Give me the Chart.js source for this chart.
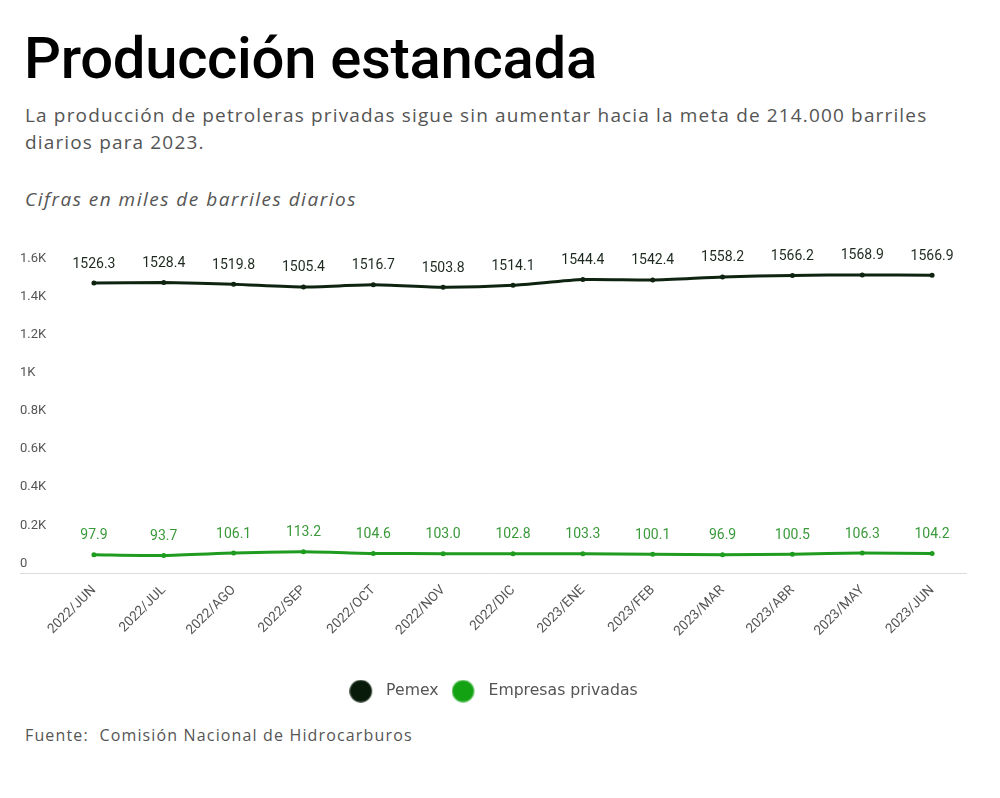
<!DOCTYPE html>
<html>
<head>
<meta charset="utf-8">
<script src="https://cdn.jsdelivr.net/npm/chart.js@4.4.0/dist/chart.umd.min.js"></script>
<style>
  html, body { margin:0; padding:0; background:#fff; }
  body { width:1000px; height:798px; position:relative; overflow:hidden; }
  #title { position:absolute; left:24px; top:29px; font-family:Roboto, sans-serif; font-weight:500; font-size:58px; color:#000; white-space:nowrap; line-height:1; letter-spacing:-0.3px; }
  #sub { position:absolute; left:25px; top:102px; font-family:"Open Sans", sans-serif; font-size:19px; letter-spacing:1.15px; color:#555; line-height:27px; white-space:nowrap; }
  #note { position:absolute; left:25px; top:186px; font-family:"Open Sans", sans-serif; font-style:italic; font-size:19px; letter-spacing:1.5px; color:#555; white-space:nowrap; }
  #foot { position:absolute; left:25px; top:724px; font-family:"Open Sans", sans-serif; font-size:16px; letter-spacing:1.15px; color:#555; white-space:pre; }
  #wrap { position:absolute; left:0; top:235px; width:1000px; height:474px; }
</style>
</head>
<body>
<div id="title">Producción estancada</div>
<div id="sub">La producción de petroleras privadas sigue sin aumentar hacia la meta de 214.000 barriles<br>diarios para 2023.</div>
<div id="note">Cifras en miles de barriles diarios</div>
<div id="wrap"><canvas id="c" width="1000" height="474"></canvas></div>
<div id="foot">Fuente:  Comisión Nacional de Hidrocarburos</div>
<script>
const categories = ['2022/JUN','2022/JUL','2022/AGO','2022/SEP','2022/OCT','2022/NOV','2022/DIC','2023/ENE','2023/FEB','2023/MAR','2023/ABR','2023/MAY','2023/JUN'];
const pemex = [1526.3, 1528.4, 1519.8, 1505.4, 1516.7, 1503.8, 1514.1, 1544.4, 1542.4, 1558.2, 1566.2, 1568.9, 1566.9];
const privadas = [97.9, 93.7, 106.1, 113.2, 104.6, 103.0, 102.8, 103.3, 100.1, 96.9, 100.5, 106.3, 104.2];
const yTickValues = [0, 200, 400, 600, 800, 1000, 1200, 1400, 1600];
const yTickLabels = ['0', '0.2K', '0.4K', '0.6K', '0.8K', '1K', '1.2K', '1.4K', '1.6K'];

function legendDot(color, halo) {
  const cv = document.createElement('canvas');
  cv.width = 29; cv.height = 23;
  const g = cv.getContext('2d');
  g.beginPath();
  g.arc(11.5, 11.5, 11.3, 0, Math.PI * 2);
  g.fillStyle = halo;
  g.fill();
  g.beginPath();
  g.arc(11.5, 11.5, 10.3, 0, Math.PI * 2);
  g.fillStyle = color;
  g.fill();
  return cv;
}

const labelPlugin = {
  id: 'pointLabels',
  afterDatasetsDraw(chart) {
    const ctx = chart.ctx;
    ctx.save();
    ctx.font = '14px Roboto, sans-serif';
    ctx.textAlign = 'center';
    ctx.textBaseline = 'middle';
    chart.data.datasets.forEach((ds, i) => {
      const meta = chart.getDatasetMeta(i);
      ctx.fillStyle = ds.labelColor;
      meta.data.forEach((pt, j) => {
        ctx.fillText(ds.data[j].toFixed(1), pt.x, pt.y - 19);
      });
    });
    ctx.restore();
  }
};
const baselinePlugin = {
  id: 'baseline',
  beforeDatasetsDraw(chart) {
    const ctx = chart.ctx;
    const y = chart.scales.y.getPixelForValue(0);
    ctx.save();
    ctx.strokeStyle = '#dcdcdc';
    ctx.lineWidth = 1;
    ctx.beginPath();
    ctx.moveTo(20, Math.round(y) + 0.5);
    ctx.lineTo(chart.chartArea.right, Math.round(y) + 0.5);
    ctx.stroke();
    ctx.restore();
  }
};

new Chart(document.getElementById('c'), {
  type: 'line',
  data: {
    labels: categories,
    datasets: [
      { label: 'Pemex', data: pemex, borderColor: '#0f2311', backgroundColor: '#0a1a0b', labelColor: '#1e2a1f',
        legendDot: legendDot('#081a09', '#2a3a2b'),
        borderWidth: 3, pointRadius: 2.5, pointBackgroundColor: '#0f2311', pointBorderWidth: 0, tension: 0.2 },
      { label: 'Empresas privadas', data: privadas, borderColor: '#1f9c1f', backgroundColor: '#16a316', labelColor: '#3a9a3a',
        legendDot: legendDot('#12a212', '#5cc05c'),
        borderWidth: 3, pointRadius: 2.5, pointBackgroundColor: '#1f9c1f', pointBorderWidth: 0, tension: 0.2 }
    ]
  },
  options: {
    responsive: false,
    animation: false,
    layout: { padding: { left: 20, right: 33, top: 34, bottom: 0 } },
    scales: {
      x: {
        offset: true,
        grid: { display: false },
        border: { display: false },
        ticks: { maxRotation: 45, minRotation: 45, color: '#555', font: { family: 'Roboto', size: 13.5 }, padding: 1 },
        afterFit(scale) { scale.height = 97; }
      },
      y: {
        min: 0, max: 1600,
        grid: { display: false },
        border: { display: false },
        afterBuildTicks(scale) { scale.ticks = yTickValues.map(v => ({ value: v })); },
        ticks: {
          color: '#555', font: { family: 'Roboto', size: 13 }, crossAlign: 'far', labelOffset: -10, padding: 8,
          callback: (v) => yTickLabels[yTickValues.indexOf(v)]
        },
        afterFit(scale) { scale.width = 39; }
      }
    },
    plugins: {
      legend: {
        position: 'bottom',
        labels: {
          usePointStyle: true, pointStyleWidth: 29, boxHeight: 15, padding: 13,
          color: '#555', font: { family: 'DejaVu Sans', size: 15.7 },
          generateLabels(chart) {
            return chart.data.datasets.map((ds, i) => ({
              text: ds.label, pointStyle: ds.legendDot, fillStyle: ds.backgroundColor,
              strokeStyle: ds.backgroundColor, lineWidth: 0, fontColor: '#555', hidden: false, datasetIndex: i
            }));
          }
        }
      },
      tooltip: { enabled: false }
    }
  },
  plugins: [labelPlugin, baselinePlugin]
});
</script>
</body>
</html>
